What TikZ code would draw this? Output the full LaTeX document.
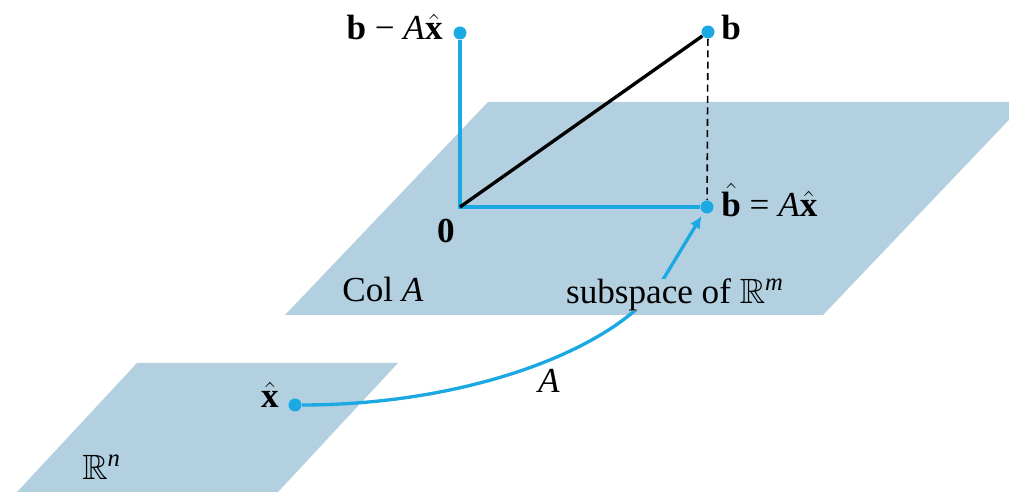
\documentclass[tikz,border=0pt]{standalone}
\usepackage{amssymb}
\usepackage{fontspec}
\setmainfont{Liberation Serif}
\usetikzlibrary{arrows.meta}
\definecolor{planecol}{RGB}{178,208,224}
\definecolor{bluecol}{RGB}{28,168,226}
\begin{document}
\begin{tikzpicture}[x=0.02cm,y=-0.02cm,
  font=\fontsize{20}{24}\selectfont,
  dot/.style={circle,fill=bluecol,inner sep=0pt,minimum size=0.26cm},
  bline/.style={draw=bluecol,line width=2.6pt},
  lbl/.style={inner sep=0pt}]
\useasboundingbox (0,0) rectangle (1009,492);
\clip (0,0) rectangle (1009,492);
% planes
\fill[planecol] (285,315) -- (823,315) -- (1026,102) -- (488,102) -- cycle;
\fill[planecol] (137,363) -- (398,363) -- (252,520) -- (-9,520) -- cycle;
% points
\coordinate (o) at (460,207);
\coordinate (Q) at (664,278);
\node[dot] (bax) at (460,33) {};
\node[dot] (b) at (708,32) {};
\node[dot] (bhat) at (707,207) {};
\node[dot] (xhat) at (295,405) {};
% lines
\draw[bline,line join=miter] (bax) -- (o) -- (bhat);
\draw[black,line width=1.9pt] (o) -- (b);
\draw[black,line width=0.9pt,dash pattern=on 4pt off 2.5pt] (b) -- (bhat);
% arrow A
\draw[draw=bluecol,line width=1.9pt,-{Latex[length=7pt,width=6.5pt]},shorten >=2pt]
  (xhat) .. controls (470,405) and (620,348) .. (Q) -- (bhat);
% labels
\node[lbl,anchor=base east] (lbax) at (443,40) {\textbf{b} − \textit{A}$\hat{\mathbf{x}}$};
\node[lbl,anchor=base west] (lb) at (721,40) {\textbf{b}};
\node[lbl,anchor=base west] (lbhat) at (721,217) {$\hat{\mathbf{b}}$ = \textit{A}$\hat{\mathbf{x}}$};
\node[lbl,anchor=base] (lo) at (446,243) {\textbf{0}};
\node[lbl,anchor=base west] (lcol) at (342,302) {Col \textit{A}};
\node[lbl,anchor=base west,fill=planecol,inner xsep=1pt] (lsub) at (564,304) {subspace of $\mathbb{R}^{\mathit{m}}$};
\node[lbl,anchor=base east] (lx) at (279,408) {$\hat{\mathbf{x}}$};
\node[lbl,anchor=base west] (lrn) at (82,480) {$\mathbb{R}^{\mathit{n}}$};
\node[lbl,anchor=base] (lA) at (549,393) {\textit{A}};
\end{tikzpicture}
\end{document}
